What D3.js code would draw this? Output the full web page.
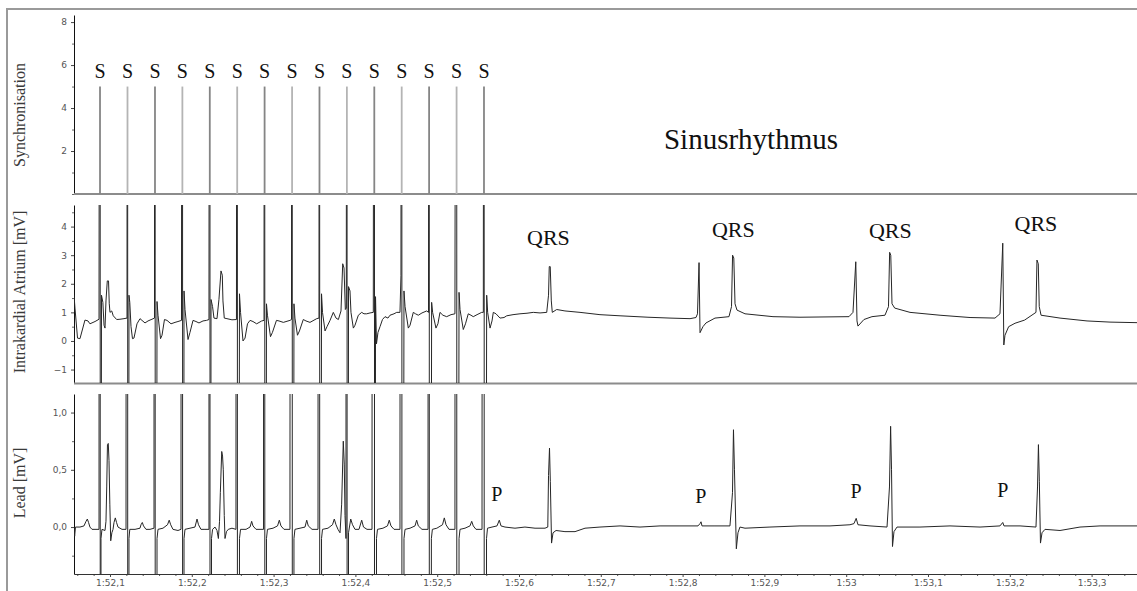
<!DOCTYPE html>
<html>
<head>
<meta charset="utf-8">
<script src="https://cdn.jsdelivr.net/npm/d3@7"></script>
<style>
  body { margin: 0; background: #fff; }
  svg { display: block; }
  .tick text { font-family: "DejaVu Sans", sans-serif; font-size: 9px; fill: #555; }
  .note { font-family: "Liberation Serif", "Times New Roman", serif; fill: #111; }
  .title { font-family: "Liberation Serif", "Times New Roman", serif; fill: #3a3a3a; font-size: 16px; }
</style>
</head>
<body>
<svg id="chart" width="1137" height="591"></svg>
<script>
// time is in ms after 1:52,0

// stimulation pulses (Synchronisation channel)
const stimTimes = [87.8, 121.4, 155.0, 188.5, 222.0, 255.5, 289.0, 322.6, 356.1, 389.6, 423.1, 456.6, 490.1, 523.7, 557.2];
const pulseLevel = 5;

// Intrakardial Atrium [mV], points between the stimulation artefacts
const atriumTrace = [
  [56,1.6],[57.2,1.15],[60.3,0.1],[63.3,0.08],[69.4,0.73],[73.1,0.7],[75.5,0.6],[81.7,0.68],[86.6,0.76],
  [89.6,1.6],[91.3,1.35],[92.7,0.55],[93.9,0.45],[95.1,1.4],[96.7,2.1],[98.2,2.1],[99.1,1.3],[100,1.0],[102.1,1.05],[104,0.88],[108.2,0.75],[112.2,0.76],[117.1,0.78],[120.8,0.8],
  [123.2,1.6],[124.2,1.35],[125.7,0.5],[127.5,0.08],[129.3,0.1],[133,0.6],[136.7,0.78],[139.1,0.72],[142.8,0.63],[146.5,0.7],[151.3,0.76],[154.4,0.8],
  [157.5,1.38],[158.7,0.9],[161.8,0.08],[163.6,0.2],[166.6,0.75],[169.7,0.72],[174.6,0.6],[179.5,0.65],[183.1,0.68],[187.4,0.72],
  [190.5,1.75],[191.7,1.1],[195.4,0.05],[197.8,0.3],[201.5,0.72],[205.1,0.68],[208.8,0.63],[213.7,0.7],[218,0.72],[221,0.75],
  [223.5,1.45],[225.4,1.2],[227.1,0.8],[230.8,0.78],[233.2,1.45],[235.7,2.45],[237.3,2.3],[238.1,1.4],[239.7,0.8],[243,0.78],[249.1,0.74],[254.6,0.75],
  [258.3,1.65],[259.6,1.0],[262.6,0.0],[265.1,0.1],[268.1,0.6],[271.2,0.72],[274.8,0.68],[279.3,0.6],[285.5,0.7],[288.3,0.72],
  [291.3,1.3],[292.5,0.9],[296.2,0.15],[298.6,0.3],[303.5,0.72],[306.6,0.7],[311.9,0.65],[320,0.72],[321.9,0.75],
  [324.9,1.3],[326.1,0.8],[329.2,0.2],[331.6,0.35],[336.3,0.75],[339.6,0.7],[344.5,0.65],[352.7,0.78],[355.5,0.8],
  [358.6,1.65],[359.8,1.0],[362.9,0.35],[365.3,0.5],[369,0.72],[373,1.0],[376.3,0.8],[379.2,0.75],[382.4,1.05],[384.5,2.7],[386.1,2.55],[387.7,1.1],[388.9,1.15],
  [391.6,1.9],[393.4,1.75],[394.6,1.0],[397.5,0.45],[399.5,0.55],[403.6,0.9],[407.7,1.0],[410.5,0.95],[413.8,0.95],[417.9,0.98],[421.9,1.0],
  [424.6,1.55],[425.8,-0.1],[427.6,0.3],[430.1,0.5],[433.1,0.75],[436.2,0.85],[439.8,0.8],[442.3,0.9],[447.2,0.95],[450.5,1.0],[454.5,1.0],[455.7,2.28],
  [459.4,1.75],[460.7,1.2],[464.7,0.45],[466.8,0.55],[470.8,1.0],[473.5,0.95],[476.9,0.9],[481.4,0.98],[487.2,1.05],[489.4,1.0],
  [493.2,1.35],[494.4,1.0],[498.5,0.45],[500.9,0.6],[503.4,1.0],[507,0.9],[511.6,0.85],[516.9,0.92],[521.7,0.95],
  [526.7,1.7],[527.9,1.1],[531.9,0.4],[534.6,0.6],[538,0.95],[541.3,0.9],[544.1,0.85],[548.7,0.92],[554.4,1.0],[556.4,1.0],
  [560.5,1.6],[561.7,1.0],[564.6,0.45],[567,0.7],[568.6,1.0],[571.9,0.95],[576.8,0.8],[581.7,0.82],[585,0.88],[592.7,0.92],[601.2,0.95],[609.8,0.97],[617.5,1.0],[625.7,0.98],[633.9,1.0],
  [636.1,1.6],[637,2.6],[638.2,2.6],[639.5,1.4],[640.7,1.0],[646.1,1.1],[656.2,1.05],[674.6,1.0],[699,0.92],[723.5,0.88],[757.7,0.83],[784.6,0.8],[809.1,0.78],[816.4,0.82],
  [818.2,0.95],[820.1,2.74],[821.3,0.29],[824.9,0.5],[828.6,0.63],[839.6,0.8],[856.7,0.85],
  [859.8,1.2],[861.1,3.0],[862.6,2.9],[864.1,1.3],[866.5,1.08],[876.3,0.95],[910.5,0.85],[943.5,0.83],[1003.4,0.85],
  [1008.3,1.0],[1011.7,2.77],[1013.2,0.7],[1014.4,0.52],[1021.7,0.75],[1031.5,0.85],[1047.4,0.9],
  [1051.7,1.2],[1053.1,3.1],[1054.5,3.0],[1056,1.3],[1059.3,1.15],[1078,1.0],[1114.7,0.9],[1151.4,0.82],[1181.9,0.8],
  [1188,0.95],[1191.4,3.42],[1192.7,-0.14],[1194.1,0.2],[1198.6,0.5],[1206.4,0.62],[1218.1,0.73],
  [1232,1.0],[1233.2,2.83],[1234.8,2.7],[1236,1.2],[1238.2,0.9],[1261.4,0.8],[1294.4,0.7],[1322.5,0.66],[1355.5,0.64]
];

// Lead [mV], points between the stimulation artefacts
const leadTrace = [
  [56,0.0],[56.8,-0.08],[57.8,0.0],[63.3,0.0],[68.2,0.01],[70.7,0.05],[72.3,0.07],[73.8,0.04],[75.5,0.0],[78,-0.02],[82.9,-0.02],[86.6,-0.02],
  [89,-0.1],[90.2,-0.02],[93.9,-0.03],[95.1,0.05],[96,0.35],[96.9,0.72],[97.9,0.73],[98.8,0.58],[99.8,0.2],[100.9,-0.12],[102.3,-0.05],[103.7,-0.02],[104.9,0.04],[106.5,0.08],[108,0.04],[109.8,0.0],[114.7,-0.02],[119.6,-0.02],
  [123.2,-0.1],[124.2,-0.02],[130.6,-0.02],[136.7,-0.01],[137.9,0.02],[139.5,0.04],[141,0.01],[144,-0.02],[148.9,-0.02],[153.8,-0.01],
  [157.5,-0.1],[158.7,-0.02],[164.8,-0.01],[170.3,0.02],[172.4,0.06],[174.2,0.02],[177,-0.02],[183.1,-0.03],[186.8,-0.02],
  [190.5,-0.1],[191.7,-0.02],[197.8,-0.01],[203.9,0.0],[206.4,0.07],[208.2,0.02],[211.2,-0.02],[216.1,-0.02],[221,-0.02],
  [224.1,-0.1],[225.4,-0.02],[228.4,0.0],[230.8,-0.03],[232.5,-0.1],[233.9,0.05],[234.9,0.3],[236.6,0.66],[237.6,0.62],[238.5,0.5],[239.7,0.1],[240.6,-0.1],[242.4,-0.04],[244.6,-0.02],[249.1,-0.01],[254,-0.02],
  [258.3,-0.1],[259.6,-0.02],[266.3,-0.02],[271.2,0.0],[273.2,0.05],[274.8,0.01],[278.5,-0.02],[283.4,-0.02],[287.7,-0.02],
  [291.3,-0.1],[292.5,-0.02],[299.3,-0.01],[304.8,0.01],[307,0.06],[309,0.01],[312.7,-0.02],[320,-0.02],
  [324.9,-0.1],[326.1,-0.02],[332.3,-0.01],[338.4,0.0],[340.5,0.06],[342.4,0.01],[347,-0.02],[354.3,-0.02],
  [358.6,-0.1],[359.8,-0.02],[366.5,-0.01],[372,0.02],[374.2,0.07],[376.3,0.02],[378.7,-0.02],[381.2,-0.05],[383.2,0.2],[385.2,0.75],[386.4,0.55],[387.3,0.1],[388.5,-0.1],
  [391.6,-0.05],[394.3,0.07],[396.5,0.02],[399.5,-0.02],[404.4,-0.02],[407.7,0.06],[409.9,0.0],[414.2,-0.02],[420.3,-0.02],
  [425.8,-0.1],[427,-0.02],[433.7,-0.01],[439.2,0.01],[441.4,0.06],[443.5,0.01],[447.2,-0.02],[454.5,-0.02],
  [459.4,-0.1],[460.7,-0.02],[466.8,-0.01],[472.9,0.01],[474.9,0.06],[476.9,0.01],[481.4,-0.02],[488.8,-0.02],
  [492.9,-0.1],[494.1,-0.02],[499.6,-0.01],[506.5,0.02],[508.7,0.08],[510.8,0.02],[514.4,-0.02],[521.7,-0.02],
  [526.7,-0.1],[527.9,-0.02],[534,-0.01],[540.1,0.01],[542.2,0.05],[544.1,0.01],[547.4,-0.02],[554.8,-0.02],
  [560.3,-0.1],[561.5,-0.01],[567,0.0],[573.1,0.01],[575.9,0.06],[578,0.01],[582.9,0.0],[595.1,-0.01],[607.3,0.0],[619.6,-0.01],[631.8,-0.01],
  [635.2,0.0],[636.1,0.45],[637.3,0.69],[638.3,0.4],[639.8,-0.14],[641.6,-0.05],[645.3,-0.03],[656.2,-0.04],[668.5,-0.04],[680.7,-0.01],
  [699,0.0],[723.5,0.01],[747.9,0.0],[772.4,0.01],[796.8,0.01],[818.8,0.01],[821.3,0.03],[822.5,0.046],[823.7,0.01],[839.6,0.01],[857.9,0.01],
  [861,0.3],[862.2,0.85],[863.4,0.5],[865.7,-0.19],[867.7,-0.05],[870.1,0.0],[876.3,-0.01],[906.8,0.0],[943.5,0.01],[980.2,0.01],
  [1004.6,0.02],[1009.5,0.03],[1012.2,0.076],[1014.4,0.02],[1029.1,0.01],[1049.9,0.0],
  [1052.9,0.35],[1054.3,0.88],[1055.4,0.5],[1056.6,-0.17],[1058.4,-0.04],[1062.1,0.0],[1090.2,0.0],[1126.9,0.01],[1163.6,0.0],
  [1188,0.01],[1191.4,0.04],[1192.9,0.01],[1212.5,0.01],[1232,0.0],
  [1233.9,0.35],[1235,0.72],[1236.1,0.4],[1237.5,-0.14],[1239.4,-0.05],[1243,-0.02],[1261.4,-0.03],[1285.8,0.0],[1310.3,0.01],[1355.5,0.01]
];

// annotations: [time ms, value]
const qrsLabels = [[636, 3.35], [862, 3.64], [1054, 3.6], [1232, 3.85]];
const pLabels = [[572.9, 0.227], [822.3, 0.21], [1012.2, 0.253], [1191.4, 0.262]];
const sLabelLevel = 5.4;
const rhythmLabel = { text: "Sinusrhythmus", t: 883.6, v: 2.09 };

// axes
const timeTicks = [100, 200, 300, 400, 500, 600, 700, 800, 900, 1000, 1100, 1200, 1300];
const syncTicks = [2, 4, 6, 8];
const atriumTicks = [-1, 0, 1, 2, 3, 4];
const leadTicks = [0, 0.5, 1];
const panelTitles = ["Synchronisation", "Intrakardial Atrium [mV]", "Lead [mV]"];

const svg = d3.select("#chart");
const left = 74, right = 1137;

const x = d3.scaleLinear().domain([56, 1355.5]).range([left, right]);

const ySync = d3.scaleLinear().domain([0, 8.33]).range([194, 15]);
const yAtrium = d3.scaleLinear().domain([-1.47, 4.755]).range([383, 205]);
const yLead = d3.scaleLinear().domain([-0.41, 1.162]).range([574, 394]);

// outer frame
svg.append("path")
    .attr("d", `M7,591V9H${right}`)
    .attr("fill", "none")
    .attr("stroke", "#9a9a9a")
    .attr("stroke-width", 2);

// clip rects for each panel
[["clipSync", ySync], ["clipAtrium", yAtrium], ["clipLead", yLead]].forEach(([id, y]) => {
    svg.append("clipPath").attr("id", id)
        .append("rect")
        .attr("x", left).attr("width", right - left)
        .attr("y", y.range()[1]).attr("height", y.range()[0] - y.range()[1]);
});

function fmtComma(d) {
    return d3.format(".1f")(d).replace(".", ",");
}

function yAxis(y, ticks, minorStep, fmt) {
    const lo = Math.ceil(y.domain()[0] / minorStep) * minorStep;
    const minor = d3.range(lo, y.domain()[1], minorStep).filter(v => !ticks.some(t => Math.abs(t - v) < 1e-6));
    svg.append("g")
        .attr("transform", `translate(${left},0)`)
        .call(d3.axisLeft(y).tickValues(minor).tickSize(2).tickSizeOuter(0).tickFormat(""))
        .call(g => g.select(".domain").remove())
        .call(g => g.selectAll("line").attr("stroke", "#666"));
    svg.append("g")
        .attr("transform", `translate(${left},0)`)
        .call(d3.axisLeft(y).tickValues(ticks).tickSize(3).tickSizeOuter(0).tickPadding(4).tickFormat(fmt))
        .call(g => g.select(".domain").attr("stroke", "#111"))
        .call(g => g.selectAll("line").attr("stroke", "#444"));
}

yAxis(ySync, syncTicks, 1, d3.format("d"));
yAxis(yAtrium, atriumTicks, 0.5, d3.format("d"));
yAxis(yLead, leadTicks, 0.25, fmtComma);

// panel separators (bottom lines of the upper two panels)
[194, 383.5].forEach(yy => {
    svg.append("line")
        .attr("x1", left).attr("x2", right)
        .attr("y1", yy).attr("y2", yy)
        .attr("stroke", "#8c8c8c")
        .attr("stroke-width", 2);
});

// time axis
function timeLabel(ms) {
    const sec = 52 + Math.floor(ms / 1000);
    const tenth = Math.round((ms % 1000) / 100);
    return "1:" + sec + (tenth ? "," + tenth : "");
}
const minorTimes = d3.range(60, 1355, 20).filter(v => v % 100 !== 0);
svg.append("g")
    .attr("transform", `translate(0,574)`)
    .call(d3.axisBottom(x).tickValues(minorTimes).tickSize(2).tickSizeOuter(0).tickFormat(""))
    .call(g => g.select(".domain").remove())
    .call(g => g.selectAll("line").attr("stroke", "#555"));
svg.append("g")
    .attr("transform", `translate(0,574)`)
    .call(d3.axisBottom(x).tickValues(timeTicks).tickSize(3).tickSizeOuter(0).tickPadding(3).tickFormat(timeLabel))
    .call(g => g.select(".domain").attr("stroke", "#333"))
    .call(g => g.selectAll("line").attr("stroke", "#444"));

// synchronisation pulses
svg.append("g").attr("clip-path", "url(#clipSync)")
    .selectAll("line")
    .data(stimTimes)
    .join("line")
    .attr("x1", d => x(d)).attr("x2", d => x(d))
    .attr("y1", ySync(0)).attr("y2", ySync(pulseLevel))
    .attr("stroke", (d, i) => i % 2 ? "#b4b4b4" : "#858585")
    .attr("stroke-width", 1.8);

// S labels
svg.append("g")
    .selectAll("text")
    .data(stimTimes)
    .join("text")
    .attr("class", "note")
    .attr("x", d => x(d))
    .attr("y", ySync(sLabelLevel))
    .attr("text-anchor", "middle")
    .style("font-size", "20px")
    .text("S");

svg.append("text")
    .attr("class", "note")
    .attr("x", x(rhythmLabel.t))
    .attr("y", ySync(rhythmLabel.v))
    .attr("text-anchor", "middle")
    .style("font-size", "29px")
    .text(rhythmLabel.text);

// traces with the stimulation artefacts running off scale
function withStims(trace) {
    const spikes = [];
    stimTimes.forEach(t => spikes.push([t, 40], [t + 0.5, -40]));
    return trace.concat(spikes).sort((a, b) => a[0] - b[0]);
}

function drawTrace(trace, y, clipId) {
    const line = d3.line().x(d => x(d[0])).y(d => y(d[1]));
    svg.append("path")
        .datum(withStims(trace))
        .attr("clip-path", `url(#${clipId})`)
        .attr("d", line)
        .attr("fill", "none")
        .attr("stroke", "#262626")
        .attr("stroke-width", 1)
        .attr("stroke-linejoin", "round");
}

drawTrace(atriumTrace, yAtrium, "clipAtrium");
drawTrace(leadTrace, yLead, "clipLead");

// QRS / P labels
svg.append("g")
    .selectAll("text")
    .data(qrsLabels)
    .join("text")
    .attr("class", "note")
    .attr("x", d => x(d[0]))
    .attr("y", d => yAtrium(d[1]))
    .attr("text-anchor", "middle")
    .style("font-size", "22px")
    .text("QRS");

svg.append("g")
    .selectAll("text")
    .data(pLabels)
    .join("text")
    .attr("class", "note")
    .attr("x", d => x(d[0]))
    .attr("y", d => yLead(d[1]))
    .attr("text-anchor", "middle")
    .style("font-size", "20px")
    .text("P");

// panel titles
const titleCenters = [115, 292, 483];
panelTitles.forEach((t, i) => {
    svg.append("text")
        .attr("class", "title")
        .attr("transform", `translate(19,${titleCenters[i]}) rotate(-90)`)
        .attr("text-anchor", "middle")
        .attr("dominant-baseline", "central")
        .text(t);
});
</script>
